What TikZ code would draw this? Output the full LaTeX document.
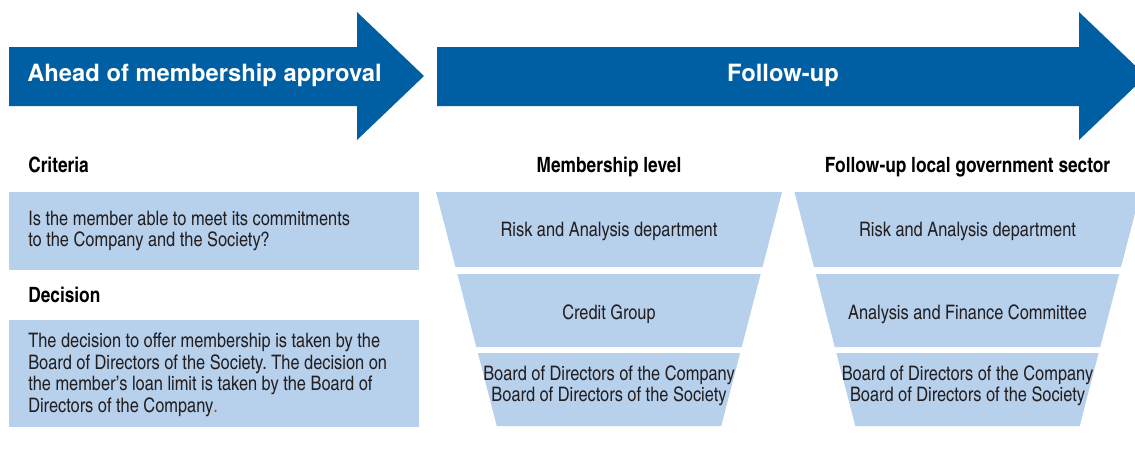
\documentclass[tikz,border=0pt]{standalone}
\usepackage{fontspec}
\setmainfont{texgyreheroscn}[Extension=.otf, UprightFont=*-regular, BoldFont=*-bold]
\newfontfamily\bannerfont{texgyreheros}[Extension=.otf, UprightFont=*-regular, BoldFont=*-bold]
\usepackage{tikz}
\usetikzlibrary{positioning}
\definecolor{arrowblue}{RGB}{0,94,162}
\definecolor{paleblue}{RGB}{183,208,236}
\definecolor{bodytext}{RGB}{35,31,32}
\definecolor{dotred}{RGB}{220,40,60}
\tikzstyle{every node}=[font=\fontsize{14.2}{15.3}\selectfont,text=bodytext,inner sep=0pt]
\tikzstyle{heading}=[font=\bfseries\fontsize{15}{17}\selectfont,text=black]
\tikzstyle{banner}=[font=\bannerfont\bfseries\fontsize{16.9}{19}\selectfont,text=white]
\tikzstyle{band}=[align=center]
\frenchspacing

\begin{document}
\begin{tikzpicture}[x=0.025cm,y=-0.025cm]
\clip (0,0) rectangle (1135,450);
\fill [white] (0,0) rectangle (1135,450);

% big arrows
\fill [arrowblue] (9,47) -- (357,47) -- (357,12) -- (424,76) -- (357,140) -- (357,106) -- (9,106) -- cycle;
\fill [arrowblue] (437,47) -- (1079,47) -- (1079,12) -- (1146,76) -- (1079,140) -- (1079,106) -- (437,106) -- cycle;
\node [banner,anchor=west] (ahead) at (27,75) {Ahead of membership approval};
\node [banner] (follow) at (783,75) {Follow-up};

% left column
\node [heading,anchor=base west] (criteria) at (28,172) {Criteria};
\fill [paleblue] (9,192) rectangle (419,270);
\node [anchor=west,align=left] (critbox) at (28,231) {Is the member able to meet its commitments\\to the Company and the Society?};
\node [heading,anchor=base west] (decision) at (28,302) {Decision};
\fill [paleblue] (9,320) rectangle (419,427);
\node [anchor=west,align=left] (decbox) at (28,375) {The decision to offer membership is taken by the\\Board of Directors of the Society. The decision on\\the member's loan limit is taken by the Board of\\Directors of the Company{\color{dotred}.}};

% membership level funnel
\node [heading,anchor=base] (memlevel) at (609,172) {Membership level};
\fill [paleblue] (436,192) -- (782,192) -- (762.5,267) -- (455.5,267) -- cycle;
\fill [paleblue] (457.3,274) -- (760.7,274) -- (741.7,347) -- (476.3,347) -- cycle;
\fill [paleblue] (477.9,353) -- (740.1,353) -- (721.2,426) -- (496.8,426) -- cycle;
\node [band] (mem1) at (609,231) {Risk and Analysis department};
\node [band] (mem2) at (609,314) {Credit Group};
\node [band] (mem3) at (609,386) {Board of Directors of the Company\\Board of Directors of the Society};

% local government funnel
\node [heading,anchor=base] (govsector) at (967.5,172) {Follow-up local government sector};
\fill [paleblue] (794.5,192) -- (1140.5,192) -- (1121,267) -- (814,267) -- cycle;
\fill [paleblue] (815.8,274) -- (1119.2,274) -- (1100.2,347) -- (834.8,347) -- cycle;
\fill [paleblue] (836.4,353) -- (1098.6,353) -- (1079.7,426) -- (855.3,426) -- cycle;
\node [band] (gov1) at (967.5,231) {Risk and Analysis department};
\node [band] (gov2) at (967.5,314) {Analysis and Finance Committee};
\node [band] (gov3) at (967.5,386) {Board of Directors of the Company\\Board of Directors of the Society};
\end{tikzpicture}
\end{document}
